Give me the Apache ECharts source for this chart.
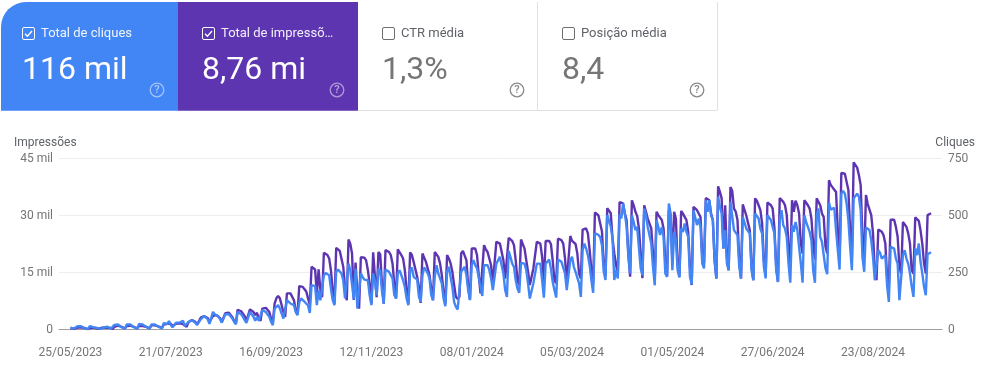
<!DOCTYPE html>
<html><head><meta charset="utf-8">
<style>html,body{margin:0;padding:0;background:#fff}#c{width:989px;height:383px}</style>
<script src="https://cdn.jsdelivr.net/npm/echarts@6/dist/echarts.min.js"></script>
</head><body><div id="c"></div>
<script>
const cardTitles = ["Total de cliques","Total de impressõ…","CTR média","Posição média"];
const cardValues = ["116 mil","8,76 mi","1,3%","8,4"];
const leftTickLabels = ["0","15 mil","30 mil","45 mil"];
const rightTickLabels = ["0","250","500","750"];
const dateLabels = ["25/05/2023","21/07/2023","16/09/2023","12/11/2023","08/01/2024","05/03/2024","01/05/2024","27/06/2024","23/08/2024"];
const dateLabelIndex = [0,57,114,171,228,285,342,399,456];
// impressions per day, in thousands
const impressions = [
.4,.3,.15,.1,
.5,.6,.6,.5,.35,.2,.1,
.5,.5,.5,.4,.3,.15,.1,
.5,.5,.45,.4,.5,.2,.15,
.7,.9,1.0,.9,.7,.4,.3,
.9,1.0,1.0,.9,.7,.5,.3,
1.0,1.0,.9,.9,.7,.4,.3,
1.1,1.2,1.1,1.0,.8,.5,.4,
1.3,1.4,1.5,1.4,1.5,.9,.6,
1.5,1.7,1.6,1.5,1.4,1.0,.7,
1.9,2.2,2.5,2.4,2.0,1.3,1.0,
3.1,3.2,3.5,3.7,3.0,2.0,1.6,
3.6,3.9,3.8,3.6,3.0,2.0,1.5,
4.3,4.5,4.4,4.0,3.2,2.3,1.6,
5.2,5.1,4.8,4.4,3.5,2.3,1.8,
5.3,5.0,4.6,3.8,4.4,2.9,2.3,
5.5,5.7,5.7,5.4,4.6,2.9,2.0,
6.8,8.2,8.8,8.2,6.4,4.6,3.3,
9.5,9.7,9.5,9.0,7.7,5.0,3.9,
11.4,11.4,11.2,10.6,10,8.2,6.5,
16.5,16.5,15.8,9.5,15.8,10.5,8.5,
20.2,20.2,19.6,18.7,15.6,10.4,6.8,
21.5,21.1,20.7,20.3,16.5,11.2,7.7,
23.7,22.6,20,7.8,17.6,10,5.5,
19,19,18.9,18.2,15.6,12,6.8,
20.3,14,8.5,20.4,19.8,12,6.8,
20.9,20.9,20.4,19.6,17.4,12.1,8.2,
21.1,20.7,19.6,18.7,15.6,10.4,6.8,
20.3,19.6,17.8,17.8,13.9,11.2,7,
20,19.6,17.8,17.4,14.3,10.8,7.7,
20.4,20,19.1,17.4,14.3,9.9,6.8,
19.6,18.7,17.4,15.2,11.7,8.6,8,
8.6,20,20.7,20.4,18.2,11.2,7.9,
21.3,21.5,21.3,19.6,14.3,9.5,9,
22.2,21.1,20.4,20.3,16.9,12.1,12.1,
23.1,23.2,22.6,22.5,18.2,13.4,13,
24.1,23.7,23.3,22.2,18.2,12.9,11.7,
23.7,23.5,21.3,18.2,15.2,11.7,11.7,
16,15.6,23.1,23.2,22.6,19.1,12.5,
23.3,23.5,23.3,22.5,18.2,13,12.1,
23.9,23.8,23.5,22.6,18.7,12.5,12.1,
24.6,23.3,23.1,22.5,20,14.7,13.4,
26.3,26.6,26.6,25.3,20.9,15.6,12.1,
30.8,30.3,30,29.7,25.8,17,14,
31.9,31.5,30.6,24,20,20.5,14.3,
33.5,33.4,33.2,30.5,28.8,20,13.9,
34,32.7,31,29.9,26.6,20,13.5,
32.7,31,29.2,29.2,26.6,20,13,
31,30.1,30.5,28.8,26.6,18,14,
31.4,30,17.4,31,29.2,17,13.9,
31.2,30.5,30.1,28.8,25.7,16.5,11.7,
32.3,32.7,31.4,31.6,29.6,18.7,17.5,
34.6,34.2,34,30.5,28.8,18.2,13.4,
37.7,36.2,34.5,21.3,32.7,19,15.6,
37.5,36.5,31.8,31,28.8,18.2,13.4,
32.9,32.7,30,29.8,26.1,16.5,13,
34.5,33.9,32.7,31.4,27.9,18.2,14,
33.4,33.6,32.7,31.8,26.6,16.5,12.5,
34.6,34.5,33.6,32.7,30.1,21.8,17.4,
34,31,33.9,32.7,30.5,22.6,20,
34,34,32.7,31.8,29.2,22.6,18.4,
34.5,34.5,32.7,30.5,29.6,21.8,20,
39.3,38,37.4,36.8,36.2,26.1,18.2,
41.2,41.5,41,40.9,36.7,26.1,19.1,
44,43.7,42.6,40.6,38,24.4,19.1,
35.4,33,33,30.1,25.3,15.6,13,
26.3,26,25.7,24.8,22.6,13.9,11.2,
28.9,29.4,28.9,27,24.4,16.5,14.7,
28.3,28,27,25.3,22.6,15.6,14.7,
29.5,29.2,28.6,26.1,22.6,17.4,14.7,
30.1,30.5,30.6];
const clicks = [
8,6,4,1,
14,16,14,10,6,3,2,
15,13,10,8,7,4,3,
10,9,15,12,6,4,3,
20,25,22,16,10,6,4,
22,26,22,16,10,6,4,
24,26,22,16,12,6,5,
22,25,22,18,12,7,5,
28,29,24,37,20,10,7,
30,35,30,25,38,15,10,
33,38,41,36,30,20,12,
44,48,60,55,45,25,18,
77,67,63,58,45,30,22,
67,70,67,60,48,34,23,
77,73,67,56,41,29,26,
77,70,56,38,56,38,34,
85,85,77,70,56,34,19,
92,99,107,92,70,48,44,
129,121,114,114,107,77,63,
118,136,130,122,125,105,73,
195,197,190,107,172,128,124,
238,248,251,238,180,129,107,
253,263,257,246,216,136,129,
289,260,253,132,267,92,88,
246,231,219,212,216,151,107,
246,210,150,268,258,170,114,
263,260,253,246,224,151,136,
246,260,253,216,187,136,107,
260,272,231,224,219,143,121,
238,272,260,246,224,151,129,
231,282,246,224,202,136,102,
253,275,231,187,121,99,88,
92,253,260,275,238,173,129,
282,304,282,268,260,187,147,
282,285,282,260,224,173,165,
289,297,319,282,246,173,143,
344,319,289,275,216,180,161,
292,297,289,260,202,136,129,
202,202,289,289,289,216,140,
289,297,307,268,209,173,140,
307,304,297,297,246,173,165,
304,319,275,253,253,202,143,
348,377,355,326,282,216,161,
422,430,415,405,370,254,217,
502,510,451,400,217,261,224,
505,487,553,509,450,319,246,
501,472,436,450,450,268,238,
531,501,450,447,377,275,194,
480,450,414,450,406,246,231,
553,509,260,428,392,260,228,
443,428,465,428,406,231,197,
523,516,458,487,450,289,268,
567,516,567,501,480,304,224,
582,538,509,355,436,289,260,
560,560,436,436,414,275,224,
494,494,443,436,421,260,216,
509,509,487,443,421,275,224,
501,501,480,450,421,260,209,
480,523,458,443,406,289,205,
458,428,472,436,443,289,205,
501,472,450,428,392,260,205,
501,531,406,385,380,268,243,
556,526,526,534,436,348,263,
596,608,596,553,480,363,260,
575,582,596,582,523,319,253,
447,443,436,392,319,216,209,
348,336,311,304,326,194,121,
363,363,355,311,289,129,121,
326,348,311,289,246,187,143,
355,326,377,297,246,187,150,
330,336,339];

const F = 'Roboto, sans-serif';
const BLUE = '#4285f4', PURPLE = '#5e35b1';
const cardX = [1,178,358,537.5], cardW = [177,180,179.5,179.5];
const cardFill = [BLUE,PURPLE,'#fff','#fff'];
const g = [];
cardTitles.forEach((t,i)=>{
  const x = cardX[i], on = i<2;
  const left = [22,202,382,562][i];
  if(on) g.push({type:'rect',shape:{x:x,y:2,width:cardW[i],height:108.7,r:i===0?[25,0,0,0]:0},style:{fill:cardFill[i]},silent:true});
  g.push({type:'rect',shape:{x:left+.5,y:27.5,width:12,height:12,r:1.5},style:{fill:'none',stroke:on?'#fff':'#6f6f6f',lineWidth:1},silent:true});
  if(on) g.push({type:'polyline',shape:{points:[[left+3,33.8],[left+5.4,36.2],[left+10,31]]},style:{fill:'none',stroke:'#fff',lineWidth:1.3},silent:true});
  g.push({type:'text',x:left+19,y:33.5,style:{text:t,font:'400 13px '+F,fill:on?'rgba(255,255,255,.92)':'#5f6368',textAlign:'left',textVerticalAlign:'middle'},silent:true});
  g.push({type:'text',x:left,y:70.5,style:{text:cardValues[i],font:'400 32px '+F,fill:on?'#fff':'#757575',textAlign:'left',textVerticalAlign:'middle'},silent:true});
  const qc = [157,337,517,697][i];
  g.push({type:'circle',shape:{cx:qc,cy:90,r:6.8},style:{fill:'none',stroke:on?'rgba(255,255,255,.5)':'#8a8a8a',lineWidth:1.3},silent:true});
  g.push({type:'text',x:qc,y:90.5,style:{text:'?',font:'500 11px '+F,fill:on?'rgba(255,255,255,.55)':'#8a8a8a',textAlign:'center',textVerticalAlign:'middle'},silent:true});
});
g.push({type:'line',shape:{x1:358,y1:110.5,x2:717,y2:110.5},style:{stroke:'#e0e0e0',lineWidth:1},silent:true});
g.push({type:'line',shape:{x1:537.5,y1:2,x2:537.5,y2:110.5},style:{stroke:'#e0e0e0',lineWidth:1},silent:true});
g.push({type:'line',shape:{x1:717.5,y1:2,x2:717.5,y2:110.5},style:{stroke:'#e0e0e0',lineWidth:1},silent:true});
g.push({type:'text',x:14,y:143,style:{text:'Impressões',font:'400 12px '+F,fill:'#5f6368',textAlign:'left',textVerticalAlign:'middle'},silent:true});
g.push({type:'text',x:975,y:143,style:{text:'Cliques',font:'400 12px '+F,fill:'#5f6368',textAlign:'right',textVerticalAlign:'middle'},silent:true});

const chart = echarts.init(document.getElementById('c'),null,{renderer:'canvas'});
const labelStyle = {color:'#757575',fontFamily:F,fontSize:12};
chart.setOption({
  animation:false,
  backgroundColor:'#fff',
  grid:{left:59,right:47,top:158.5,bottom:53.5},
  xAxis:{type:'value',min:-6.5,max:495.2,
    axisLine:{show:true,onZero:false,lineStyle:{color:'#9e9e9e',width:1}},
    axisTick:{show:false},splitLine:{show:false},
    axisLabel:Object.assign({},labelStyle,{margin:17,customValues:dateLabelIndex,showMinLabel:true,showMaxLabel:true,
      formatter:v=>dateLabels[dateLabelIndex.indexOf(v)]||''})},
  yAxis:[
    {type:'value',min:0,max:45,interval:15,position:'left',
     axisLine:{show:false},axisTick:{show:false},
     splitLine:{show:true,lineStyle:{color:'#eeeeee',width:1}},
     axisLabel:Object.assign({},labelStyle,{margin:6,padding:[4,0,0,0],formatter:v=>leftTickLabels[v/15]})},
    {type:'value',min:0,max:750,interval:250,position:'right',
     axisLine:{show:false},axisTick:{show:false},splitLine:{show:false},
     axisLabel:Object.assign({},labelStyle,{margin:6,padding:[4,0,0,0],formatter:v=>rightTickLabels[v/250]})}
  ],
  series:[
    {name:'Impressões',type:'line',yAxisIndex:0,showSymbol:false,silent:true,
     data:impressions.map((v,i)=>[i,v]),lineStyle:{color:PURPLE,width:2.4},itemStyle:{color:PURPLE},z:2},
    {name:'Cliques',type:'line',yAxisIndex:1,showSymbol:false,silent:true,
     data:clicks.map((v,i)=>[i,v]),lineStyle:{color:BLUE,width:2.4},itemStyle:{color:BLUE},z:3}
  ],
  graphic:{elements:g}
});
</script></body></html>
